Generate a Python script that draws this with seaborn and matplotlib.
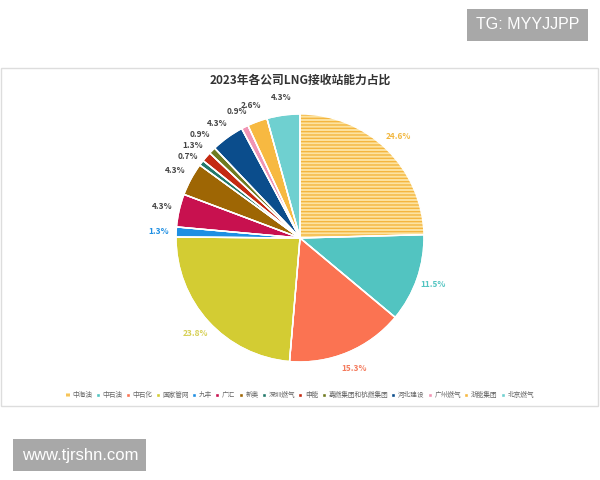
import matplotlib
matplotlib.use("Agg")
import matplotlib.pyplot as plt
import seaborn as sns
from matplotlib.patches import Rectangle

# data
companies = ["中海油", "中石油", "中石化", "国家管网", "九丰", "广汇", "新奥", "深圳燃气",
             "申能", "嘉燃集团和杭燃集团", "河北建设", "广州燃气", "浙能集团", "北京燃气"]
shares = [24.6, 11.5, 15.3, 23.8, 1.3, 4.3, 4.3, 0.7, 1.3, 0.9, 4.3, 0.9, 2.6, 4.3]
colors = ["#fde3a0", "#52c4c1", "#fb7352", "#d3cc33", "#1e8fe3", "#c8114f", "#9e6604",
          "#22796b", "#c42a12", "#6f7b20", "#0b4d8c", "#f194b4", "#f7b941", "#6fd0d0"]
label_colors = ["#f2b73f", "#52c4c1", "#f47a5c", "#d6cf52", "#1e8fe3"] + ["#444444"] * 9

title = "2023年各公司LNG接收站能力占比"

sns.set_theme(style="white")
plt.rcParams["font.family"] = ["Noto Sans CJK SC", "DejaVu Sans"]
plt.rcParams["hatch.linewidth"] = 1.0

fig = plt.figure(figsize=(6, 4.8), dpi=100)
fig.patch.set_facecolor("white")

# card frame
fig.patches.append(Rectangle((0.002, 0.154), 0.994, 0.704, transform=fig.transFigure,
                             facecolor="none", edgecolor="#dddddd", linewidth=1))

ax = fig.add_axes([0.19, 0.1167, 0.62, 0.775])
wedges, texts, autotexts = ax.pie(
    shares, colors=colors, startangle=90, counterclock=False,
    autopct="%.1f%%", pctdistance=1.14,
    wedgeprops=dict(edgecolor="white", linewidth=1),
    textprops=dict(fontsize=6, fontweight="bold"),
)
# striped first slice
wedges[0].set_hatch("-----")
wedges[0].set_edgecolor("#f4b63f")
wedges[0].set_linewidth(0)
# white separators on top of the striped slice
ax.pie(shares, colors=["none"] * len(shares), startangle=90, counterclock=False,
       wedgeprops=dict(edgecolor="white", linewidth=1))
for t, c in zip(autotexts, label_colors):
    t.set_color(c)

# spread the three tiny labels a little so they stack like the original
for i, dy in [(7, -0.03), (9, 0.03)]:
    x, y = autotexts[i].get_position()
    autotexts[i].set_position((x, y + dy))

ax.set_xlim(-1.5, 1.5)
ax.set_ylim(-1.5, 1.5)
ax.set_aspect("equal")
ax.axis("off")

fig.text(0.5, 0.833, title, ha="center", va="center", fontsize=8.5,
         fontweight="bold", color="#333333")

leg = fig.legend(wedges, companies, loc="center", bbox_to_anchor=(0.5, 0.177),
                 ncol=len(companies), frameon=False, fontsize=4.8,
                 handlelength=0.6, handleheight=0.6, handletextpad=0.4,
                 columnspacing=0.5, borderaxespad=0)
for txt in leg.get_texts():
    txt.set_color("#666666")

# watermarks
fig.text(0.879, 0.948, "TG: MYYJJPP", ha="center", va="center", fontsize=11.5,
         color="white", family="Liberation Sans",
         bbox=dict(boxstyle="square,pad=0.55", facecolor="#a8a8a8", edgecolor="none"))
fig.text(0.133, 0.052, "www.tjrshn.com", ha="center", va="center", fontsize=12,
         color="white", family="Liberation Sans",
         bbox=dict(boxstyle="square,pad=0.5", facecolor="#a8a8a8", edgecolor="none"))

fig.savefig("out.png", dpi=100, facecolor="white")
